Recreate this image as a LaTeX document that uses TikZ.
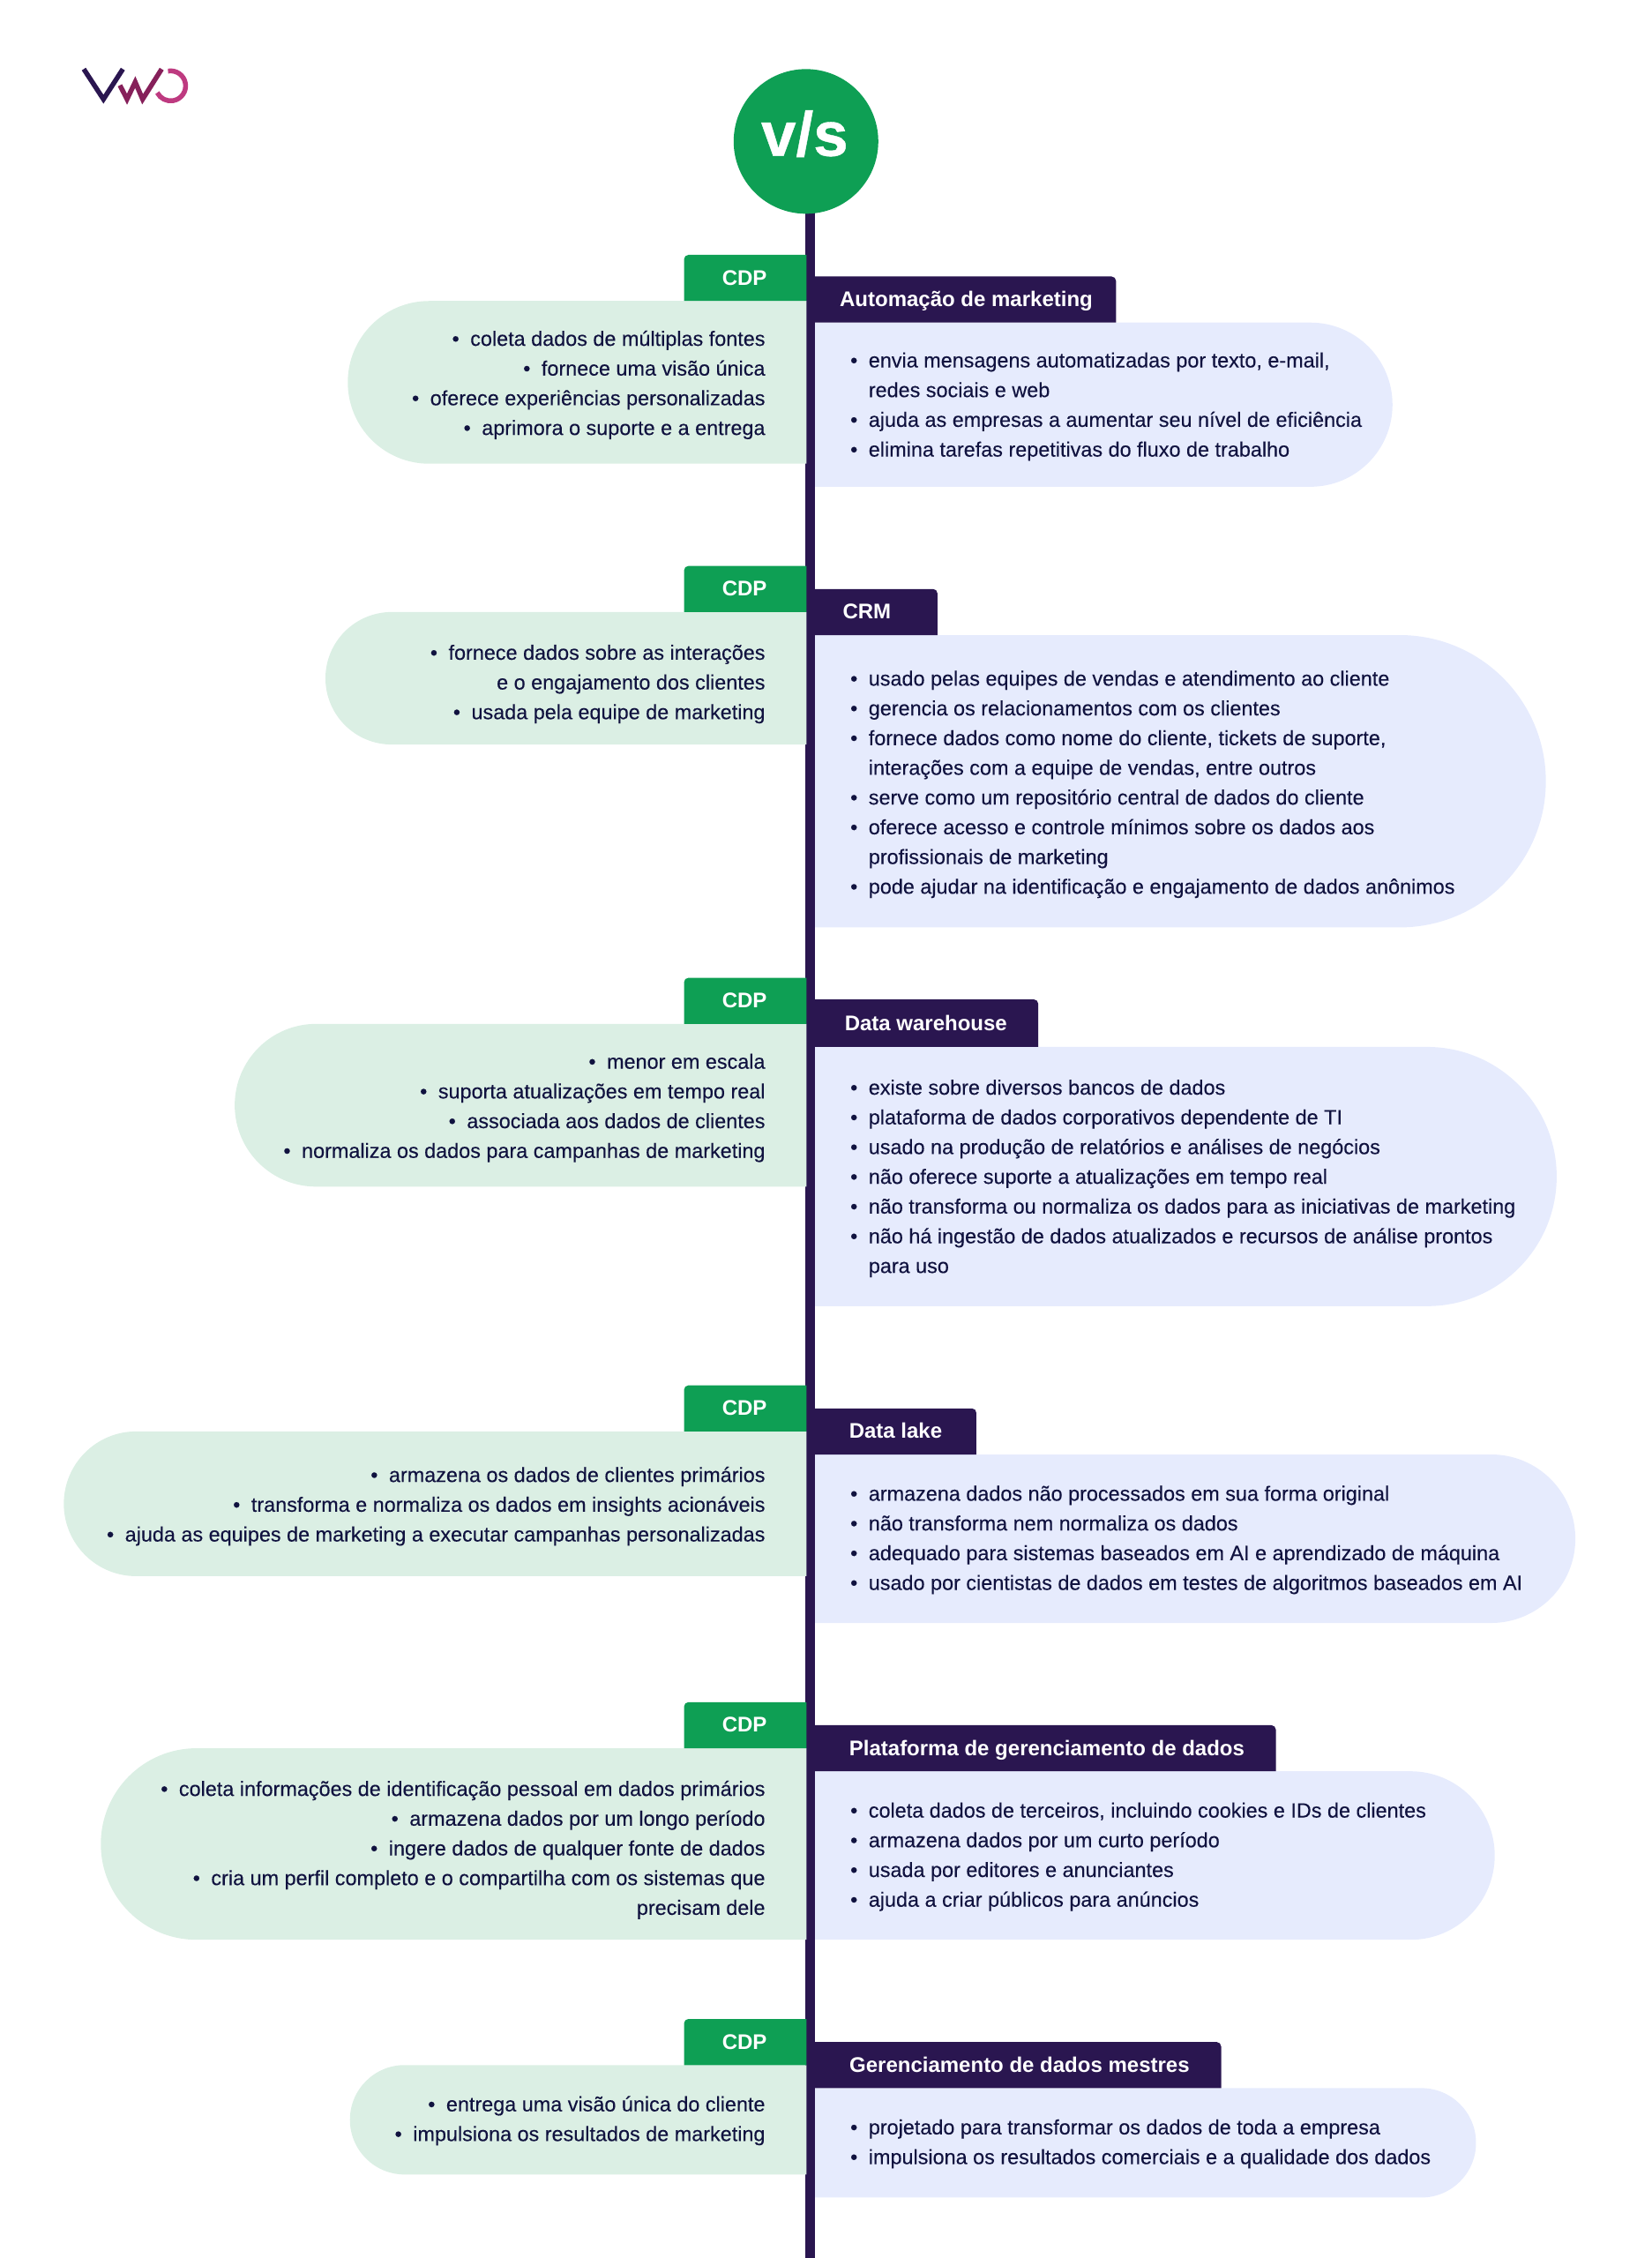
\documentclass[tikz,border=0pt]{standalone}
\usepackage{fontspec}
\setmainfont{Liberation Sans}
\newfontfamily\listfam[FakeBold=0.15]{Liberation Sans}
\newfontfamily\vsfam[BoldFeatures={FakeBold=0.6}]{Liberation Sans}
\definecolor{vgreen}{HTML}{0E9F54}
\definecolor{lgreen}{HTML}{DBEFE4}
\definecolor{lblue}{HTML}{E6EBFD}
\definecolor{navy}{HTML}{2A1650}
\definecolor{ink}{HTML}{10123F}
\definecolor{wine}{HTML}{86205A}
\definecolor{pink}{HTML}{BE3A80}
\newcommand{\fl}{\rule{0pt}{24pt}}
\newcommand{\bl}{\makebox[20.7pt][l]{\textbullet}}
\newcommand{\ind}{\hspace*{20.7pt}}
\newcommand{\rb}{\textbullet\hspace{12.5pt}}
\tikzset{
  listfont/.style={font=\listfam\fontsize{23.4}{33.7}\selectfont, text=ink, inner sep=0pt},
  leftlist/.style={listfont, anchor=north east, align=right},
  rightlist/.style={listfont, anchor=north west, align=left},
  tablabel/.style={font=\fontsize{24}{28}\selectfont\bfseries, text=white, inner sep=0pt, text height=21pt, text depth=5pt},
  spine/.style={navy, line width=11pt},
}
% pills: top, bottom, outer x
\newcommand{\lbub}[3]{\pgfmathsetmacro{\rr}{(#2-#1)/2}\pgfmathsetmacro{\xs}{#3+\rr}
  \fill[lgreen] (560,#1) -- (\xs,#1) arc[start angle=-90,end angle=-270,radius=\rr] -- (560,#2) -- cycle;}
\newcommand{\rbub}[3]{\pgfmathsetmacro{\rr}{(#2-#1)/2}\pgfmathsetmacro{\xs}{#3-\rr}
  \fill[lblue] (566,#1) -- (\xs,#1) arc[start angle=-90,end angle=90,radius=\rr] -- (566,#2) -- cycle;}
% tabs: top, bottom, outer x
\newcommand{\ltab}[2]{\fill[vgreen] (560,#2) -- (475,#2) [rounded corners=5pt] -- (475,#1) [sharp corners] -- (560,#1) -- cycle;}
\newcommand{\rtab}[3]{\fill[navy] (566,#2) -- (#3,#2) [rounded corners=5pt] -- (#3,#1) [sharp corners] -- (566,#1) -- cycle;}
\begin{document}
\begin{tikzpicture}[x=1.6327pt,y=-1.6327pt]
\useasboundingbox (0,0) rectangle (1147.2,1568);
% logo
\begin{scope}[x=1pt,y=-1pt,line width=5.5pt]
  \draw[navy,miter limit=10] (95,78.3) -- (117.3,112.5) -- (139.3,78.3);
  \draw[wine,miter limit=10] (136,96.7) -- (144,112.5) -- (153.3,93) -- (161.7,112.5) -- (183.3,78.3);
  \draw[pink] (190.5,80.6) arc[start angle=-100,end angle=153,radius=17];
\end{scope}
% spine and head
\coordinate (spinetop) at (562.6,140);
\coordinate (spineend) at (562.6,1568);
\draw[spine] (spinetop) -- (spineend);
\node[circle,fill=vgreen,minimum size=164pt,inner sep=0pt] (vs) at (559.7,98.2) {};
\node[font=\vsfam\fontsize{71}{71}\selectfont\bfseries,text=white,inner sep=0pt,anchor=base] (vslabel) at (558.8,108.2) {v/s};

% 1
\lbub{209}{322}{241.5}
\ltab{177}{209}
\node[tablabel] (cdp1) at (517,193) {CDP};
\rbub{224}{338}{967}
\rtab{192}{224}{775}
\node[tablabel] (t1) at (671,208) {Automação de marketing};
\node[leftlist] (l1) at (531.5,225.3) {\fl\rb coleta dados de múltiplas fontes\\\rb fornece uma visão única\\\rb oferece experiências personalizadas\\\rb aprimora o suporte e a entrega};
\node[rightlist] (r1) at (590.4,240.3) {\fl\bl envia mensagens automatizadas por texto, e-mail,\\\ind redes sociais e web\\\bl ajuda as empresas a aumentar seu nível de eficiência\\\bl elimina tarefas repetitivas do fluxo de trabalho};

% 2
\lbub{425}{517}{226}
\ltab{393}{425}
\node[tablabel] (cdp2) at (517,409) {CDP};
\rbub{441}{644}{1073.5}
\rtab{409}{441}{651}
\node[tablabel] (t2) at (602,425) {CRM};
\node[leftlist] (l2) at (531.5,443.3) {\fl\rb fornece dados sobre as interações\\e o engajamento dos clientes\\\rb usada pela equipe de marketing};
\node[rightlist] (r2) at (590.4,461.3) {\fl\bl usado pelas equipes de vendas e atendimento ao cliente\\\bl gerencia os relacionamentos com os clientes\\\bl fornece dados como nome do cliente, tickets de suporte,\\\ind interações com a equipe de vendas, entre outros\\\bl serve como um repositório central de dados do cliente\\\bl oferece acesso e controle mínimos sobre os dados aos\\\ind profissionais de marketing\\\bl pode ajudar na identificação e engajamento de dados anônimos};

% 3
\lbub{711}{824}{163}
\ltab{679}{711}
\node[tablabel] (cdp3) at (517,695) {CDP};
\rbub{727}{907}{1081}
\rtab{694}{727}{721}
\node[tablabel] (t3) at (643,710.5) {Data warehouse};
\node[leftlist] (l3) at (531.5,727.3) {\fl\rb menor em escala\\\rb suporta atualizações em tempo real\\\rb associada aos dados de clientes\\\rb normaliza os dados para campanhas de marketing};
\node[rightlist] (r3) at (590.4,745.3) {\fl\bl existe sobre diversos bancos de dados\\\bl plataforma de dados corporativos dependente de TI\\\bl usado na produção de relatórios e análises de negócios\\\bl não oferece suporte a atualizações em tempo real\\\bl não transforma ou normaliza os dados para as iniciativas de marketing\\\bl não há ingestão de dados atualizados e recursos de análise prontos\\\ind para uso};

% 4
\lbub{994}{1094.5}{44.3}
\ltab{962}{994}
\node[tablabel] (cdp4) at (517,978) {CDP};
\rbub{1010}{1127}{1094}
\rtab{978}{1010}{678}
\node[tablabel] (t4) at (622,994) {Data lake};
\node[leftlist] (l4) at (531.5,1014.3) {\fl\rb armazena os dados de clientes primários\\\rb transforma e normaliza os dados em insights acionáveis\\\rb ajuda as equipes de marketing a executar campanhas personalizadas};
\node[rightlist] (r4) at (590.4,1027.3) {\fl\bl armazena dados não processados em sua forma original\\\bl não transforma nem normaliza os dados\\\bl adequado para sistemas baseados em AI e aprendizado de máquina\\\bl usado por cientistas de dados em testes de algoritmos baseados em AI};

% 5
\lbub{1214}{1347}{70}
\ltab{1182}{1214}
\node[tablabel] (cdp5) at (517,1198) {CDP};
\rbub{1230}{1347}{1038}
\rtab{1198}{1230}{886}
\node[tablabel] (t5) at (727,1214) {Plataforma de gerenciamento de dados};
\node[leftlist] (l5) at (531.5,1232.3) {\fl\rb coleta informações de identificação pessoal em dados primários\\\rb armazena dados por um longo período\\\rb ingere dados de qualquer fonte de dados\\\rb cria um perfil completo e o compartilha com os sistemas que\\precisam dele};
\node[rightlist] (r5) at (590.4,1247.3) {\fl\bl coleta dados de terceiros, incluindo cookies e IDs de clientes\\\bl armazena dados por um curto período\\\bl usada por editores e anunciantes\\\bl ajuda a criar públicos para anúncios};

% 6
\lbub{1434}{1510}{243}
\ltab{1402}{1434}
\node[tablabel] (cdp6) at (517,1418) {CDP};
\rbub{1450}{1526}{1025}
\rtab{1418}{1450}{848}
\node[tablabel] (t6) at (708,1434) {Gerenciamento de dados mestres};
\node[leftlist] (l6) at (531.5,1451.3) {\fl\rb entrega uma visão única do cliente\\\rb impulsiona os resultados de marketing};
\node[rightlist] (r6) at (590.4,1467.3) {\fl\bl projetado para transformar os dados de toda a empresa\\\bl impulsiona os resultados comerciais e a qualidade dos dados};
\end{tikzpicture}
\end{document}
